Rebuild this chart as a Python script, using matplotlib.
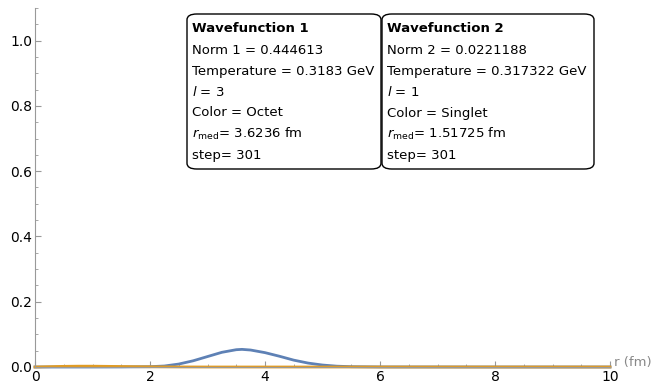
import matplotlib
matplotlib.use("Agg")
import matplotlib.pyplot as plt
from matplotlib.patches import FancyBboxPatch
from matplotlib.ticker import MultipleLocator

# wavefunction 1 (blue)
r1 = [0.0, 1.0, 1.5, 2.0, 2.25, 2.5, 2.75, 3.0, 3.25, 3.5, 3.6, 3.75, 4.0, 4.25, 4.5, 4.75, 5.0, 5.25, 5.5, 6.0, 8.0, 10.0]
psi1 = [0.0, 0.0, 0.0002, 0.001, 0.003, 0.009, 0.019, 0.032, 0.045, 0.053, 0.054, 0.052, 0.044, 0.033, 0.021, 0.012, 0.006, 0.0025, 0.001, 0.0002, 0.0, 0.0]
# wavefunction 2 (orange)
r2 = [0.0, 0.25, 0.5, 0.75, 1.0, 1.25, 1.5, 1.75, 2.0, 2.5, 3.0, 4.0, 6.0, 8.0, 10.0]
psi2 = [0.0, 0.001, 0.002, 0.0025, 0.0025, 0.002, 0.0015, 0.001, 0.0006, 0.0002, 0.0, 0.0, 0.0, 0.0, 0.0]

box1 = ["Wavefunction 1", "Norm 1 = 0.444613", "Temperature = 0.3183 GeV",
        r"$l$ = 3", "Color = Octet", r"$r_{\mathrm{med}}$= 3.6236 fm", "step= 301"]
box2 = ["Wavefunction 2", "Norm 2 = 0.0221188", "Temperature = 0.317322 GeV",
        r"$l$ = 1", "Color = Singlet", r"$r_{\mathrm{med}}$= 1.51725 fm", "step= 301"]

W, H = 657, 383
fig = plt.figure(figsize=(W / 100, H / 100), dpi=100)
ax = fig.add_axes([35 / W, 16 / H, 575 / W, 359 / H])

ax.plot(r1, psi1, color="#5E81B5", lw=2, clip_on=False)
ax.plot(r2, psi2, color="#E19C24", lw=2, clip_on=False)

ax.set_xlim(0, 10)
ax.set_ylim(0, 1.10)
ax.xaxis.set_major_locator(MultipleLocator(2))
ax.xaxis.set_minor_locator(MultipleLocator(0.5))
ax.yaxis.set_major_locator(MultipleLocator(0.2))
ax.yaxis.set_minor_locator(MultipleLocator(0.05))
for s in ["top", "right"]:
    ax.spines[s].set_visible(False)
for s in ["left", "bottom"]:
    ax.spines[s].set_color("#999999")
ax.tick_params(which="both", direction="in", color="#999999", labelsize=10, pad=2)
ax.tick_params(which="major", length=4)
ax.tick_params(which="minor", length=2.5)
ax.set_yticks([0, 0.2, 0.4, 0.6, 0.8, 1.0])
ax.set_yticklabels(["0.0", "0.2", "0.4", "0.6", "0.8", "1.0"])
fig.text(614 / W, 1 - 369 / H, "r (fm)", color="#888888", fontsize=9.5, va="bottom", ha="left")


def draw_box(x0, x1, lines):
    y0, y1 = 14, 169
    fig.patches.append(FancyBboxPatch((x0 / W, 1 - y1 / H), (x1 - x0) / W, (y1 - y0) / H,
                                      boxstyle="round,pad=0,rounding_size=0.015",
                                      transform=fig.transFigure, fc="white", ec="black", lw=1))
    for i, t in enumerate(lines):
        fig.text((x0 + 5) / W, 1 - (29 + 21 * i) / H, t, fontsize=9.5, va="center", ha="left",
                 fontweight="bold" if i == 0 else "normal")


draw_box(187, 381, box1)
draw_box(382, 594, box2)

fig.savefig("out.png", dpi=100)
